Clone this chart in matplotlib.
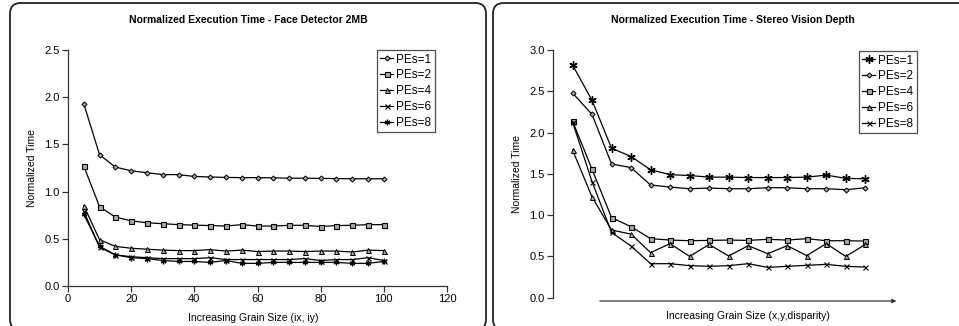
import matplotlib
matplotlib.use("Agg")
import matplotlib.pyplot as plt
from matplotlib.patches import FancyBboxPatch

plt.rcParams['font.family'] = ['Liberation Sans', 'DejaVu Sans']

# ---- Left chart data: Face Detector 2MB ----
grain_ix = [5, 10, 15, 20, 25, 30, 35, 40, 45, 50, 55, 60, 65, 70, 75, 80, 85, 90, 95, 100]
face_labels = ["PEs=1", "PEs=2", "PEs=4", "PEs=6", "PEs=8"]
face_pe1 = [1.93, 1.39, 1.26, 1.22, 1.20, 1.18, 1.18, 1.16, 1.155, 1.15, 1.148, 1.148, 1.146, 1.142, 1.142, 1.14, 1.138, 1.136, 1.136, 1.136]
face_pe2 = [1.27, 0.84, 0.73, 0.69, 0.67, 0.66, 0.65, 0.645, 0.64, 0.635, 0.65, 0.635, 0.635, 0.643, 0.643, 0.63, 0.64, 0.643, 0.65, 0.65]
face_pe4 = [0.85, 0.49, 0.42, 0.40, 0.39, 0.38, 0.375, 0.375, 0.385, 0.37, 0.38, 0.365, 0.37, 0.37, 0.365, 0.37, 0.37, 0.36, 0.38, 0.375]
face_pe6 = [0.79, 0.41, 0.33, 0.31, 0.30, 0.29, 0.29, 0.29, 0.30, 0.28, 0.28, 0.28, 0.28, 0.28, 0.29, 0.27, 0.28, 0.28, 0.30, 0.27]
face_pe8 = [0.76, 0.42, 0.33, 0.30, 0.29, 0.27, 0.26, 0.26, 0.25, 0.27, 0.24, 0.24, 0.25, 0.25, 0.25, 0.25, 0.25, 0.24, 0.24, 0.26]

# ---- Right chart data: Stereo Vision Depth ----
grain_idx = list(range(1, 17))
stereo_labels = ["PEs=1", "PEs=2", "PEs=4", "PEs=6", "PEs=8"]
stereo_pe1 = [2.82, 2.39, 1.81, 1.71, 1.55, 1.49, 1.48, 1.46, 1.46, 1.455, 1.455, 1.455, 1.46, 1.485, 1.445, 1.44]
stereo_pe2 = [2.48, 2.22, 1.62, 1.575, 1.365, 1.34, 1.32, 1.328, 1.32, 1.32, 1.332, 1.332, 1.32, 1.32, 1.308, 1.332]
stereo_pe4 = [2.14, 1.555, 0.97, 0.86, 0.715, 0.698, 0.69, 0.694, 0.698, 0.694, 0.707, 0.698, 0.715, 0.69, 0.69, 0.686]
stereo_pe6 = [1.79, 1.22, 0.82, 0.77, 0.545, 0.655, 0.50, 0.645, 0.505, 0.63, 0.533, 0.63, 0.51, 0.655, 0.50, 0.645]
stereo_pe8 = [2.13, 1.405, 0.79, 0.626, 0.412, 0.412, 0.388, 0.38, 0.388, 0.412, 0.367, 0.38, 0.392, 0.404, 0.38, 0.371]

W, H = 959, 326
fig = plt.figure(figsize=(W / 100, H / 100), dpi=100)

def px_rect(l, t, r, b):
    return [l / W, 1 - b / H, (r - l) / W, (b - t) / H]

# panel borders
for (l, t, r, b) in [(10, 3, 486, 330), (493, 3, 975, 330)]:
    fig.patches.append(FancyBboxPatch((l / W, 1 - b / H), (r - l) / W, (b - t) / H,
                                      boxstyle="round,pad=0,rounding_size=0.011",
                                      transform=fig.transFigure, fill=False,
                                      edgecolor="#222222", linewidth=1.3,
                                      mutation_aspect=W / H))

GRAY = "#a8a8a8"
styles_face = [
    dict(marker="D", ms=2.6, mfc=GRAY, mec="black", mew=0.7),
    dict(marker="s", ms=3.6, mfc=GRAY, mec="black", mew=0.8),
    dict(marker="^", ms=3.6, mfc=GRAY, mec="black", mew=0.7),
    dict(marker="x", ms=3.6, mfc="none", mec="black", mew=0.8),
    dict(marker=(6, 2, 0), ms=4.0, mfc="none", mec="black", mew=0.9),
]
styles_stereo = [
    dict(marker=(6, 2, 0), ms=6.0, mfc="none", mec="black", mew=1.0),
    dict(marker="D", ms=2.6, mfc=GRAY, mec="black", mew=0.7),
    dict(marker="s", ms=3.6, mfc=GRAY, mec="black", mew=0.8),
    dict(marker="^", ms=3.6, mfc=GRAY, mec="black", mew=0.7),
    dict(marker="x", ms=3.6, mfc="none", mec="black", mew=0.8),
]

FS = 7.5
TFS = 8
LFS = 8.5

def style_axes(ax):
    for s in ["top", "right"]:
        ax.spines[s].set_visible(False)
    for s in ["left", "bottom"]:
        ax.spines[s].set_color("#333333")
        ax.spines[s].set_linewidth(0.9)
    ax.tick_params(direction="out", length=4, width=0.9, color="#333333",
                   labelsize=TFS, pad=2)

def add_legend(ax, right_px, ax_left, ax_right, top_off):
    leg = ax.legend(loc="upper right",
                    bbox_to_anchor=(1.0 - (ax_right - right_px) / (ax_right - ax_left), 1.0 - top_off),
                    fontsize=LFS, frameon=True, fancybox=False, handlelength=1.1,
                    handletextpad=0.25, borderpad=0.3, labelspacing=0.32, borderaxespad=0)
    leg.get_frame().set_edgecolor("#222222")
    leg.get_frame().set_linewidth(0.9)
    return leg

# ---- Left axes ----
ax1 = fig.add_axes(px_rect(68, 50, 447, 286))
face_series = [face_pe1, face_pe2, face_pe4, face_pe6, face_pe8]
for vals, lab, st in zip(face_series, face_labels, styles_face):
    ax1.plot(grain_ix, vals, color="black", lw=0.9, label=lab, **st)
ax1.set_xlim(0, 120)
ax1.set_ylim(0, 2.5)
ax1.set_xticks([0, 20, 40, 60, 80, 100, 120])
ax1.set_yticks([0, 0.5, 1.0, 1.5, 2.0, 2.5])
ax1.set_yticklabels(["0.0", "0.5", "1.0", "1.5", "2.0", "2.5"])
style_axes(ax1)
ax1.set_ylabel("Normalized Time", fontsize=FS, labelpad=5)
add_legend(ax1, 435, 68, 447, 0.0)

fig.text(248 / W, 1 - 20 / H, "Normalized Execution Time - Face Detector 2MB",
         ha="center", va="center", fontsize=FS, fontweight="bold")
fig.text(253 / W, 1 - 318 / H, "Increasing Grain Size (ix, iy)",
         ha="center", va="center", fontsize=FS)

# ---- Right axes ----
ax2 = fig.add_axes(px_rect(553, 50, 896.5, 297.7))
stereo_series = [stereo_pe1, stereo_pe2, stereo_pe4, stereo_pe6, stereo_pe8]
for vals, lab, st in zip(stereo_series, stereo_labels, styles_stereo):
    ax2.plot(grain_idx, vals, color="black", lw=0.9, label=lab, **st)
ax2.set_xlim(0, 17.6)
ax2.set_ylim(0, 3.0)
ax2.set_yticks([0, 0.5, 1.0, 1.5, 2.0, 2.5, 3.0])
ax2.set_yticklabels(["0.0", "0.5", "1.0", "1.5", "2.0", "2.5", "3.0"])
ax2.set_xticks([])
style_axes(ax2)
ax2.spines["bottom"].set_visible(False)
ax2.set_ylabel("Normalized Time", fontsize=FS, labelpad=5)
ax2.annotate("", xy=(17.6, -0.04), xytext=(2.4, -0.04), annotation_clip=False,
             arrowprops=dict(arrowstyle="-|>", color="#333333", lw=0.9,
                             mutation_scale=6, shrinkA=0, shrinkB=0))
add_legend(ax2, 917, 553, 896.5, 1 / 247.7)

fig.text(733 / W, 1 - 20 / H, "Normalized Execution Time - Stereo Vision Depth",
         ha="center", va="center", fontsize=FS, fontweight="bold")
fig.text(748 / W, 1 - 316 / H, "Increasing Grain Size (x,y,disparity)",
         ha="center", va="center", fontsize=FS)

fig.savefig("out.png", dpi=100)
